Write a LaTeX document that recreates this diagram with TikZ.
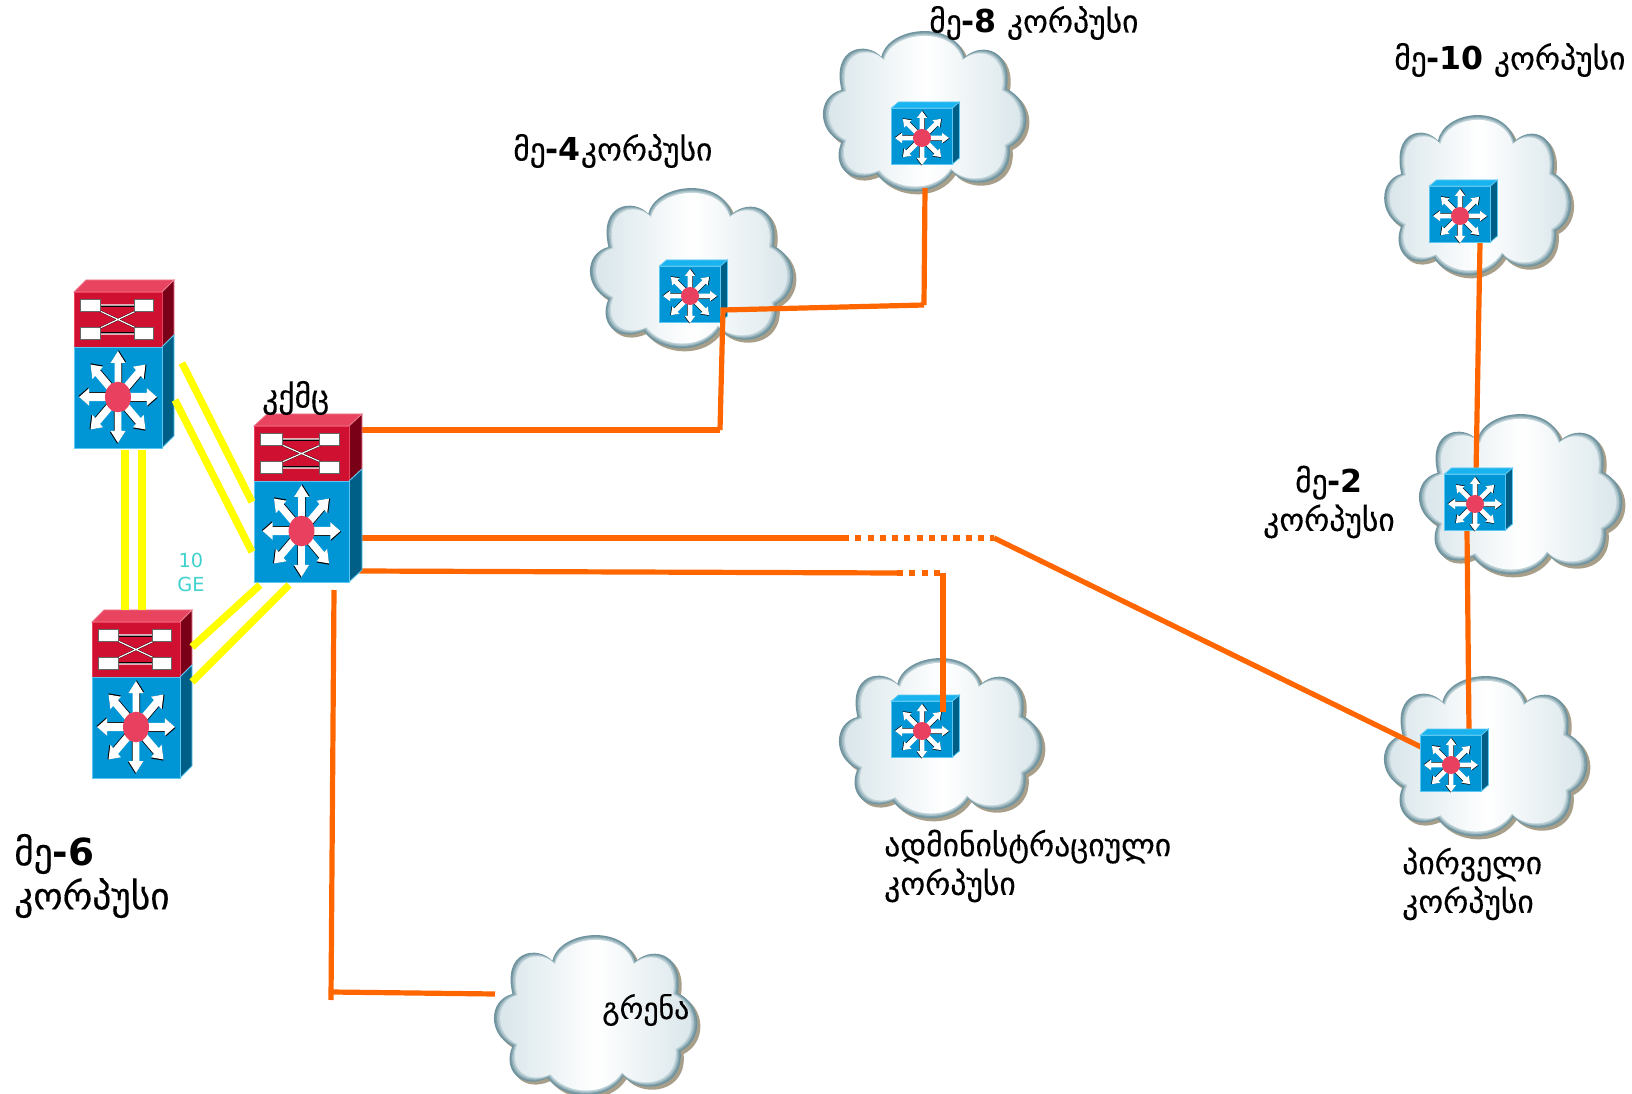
\documentclass[tikz,border=0pt]{standalone}
\usepackage{xcolor}
\usepackage{fontspec}
\setmainfont{DejaVu Sans}
\newfontfamily\geofont{DejaVu Sans}[FakeBold=0.3]
\usepackage{tikz}
\usetikzlibrary{positioning,calc}
\definecolor{swblue}{HTML}{0096D6}
\definecolor{swbluetop}{HTML}{19B4EF}
\definecolor{swblueside}{HTML}{005F87}
\definecolor{swedge}{HTML}{5CC8F2}
\definecolor{swred}{HTML}{D01030}
\definecolor{swredtop}{HTML}{E8435F}
\definecolor{swredside}{HTML}{7A0018}
\definecolor{swdot}{HTML}{E8405E}
\definecolor{cloudshadow}{HTML}{A89F8A}
\definecolor{cloudrim}{HTML}{6F939E}
\definecolor{cloudmid}{HTML}{A5BEC6}
\definecolor{cloudsoft}{HTML}{D6E4E9}
\definecolor{fiberorange}{HTML}{FF6600}
\definecolor{geyellow}{RGB}{255,255,0}
\definecolor{gelabel}{HTML}{3FD2D0}
\newcommand{\bnum}[1]{{\rmfamily\bfseries #1}}
\tikzset{
  cloud outline/.style={insert path={
    (-47,-54) .. controls (-40,-85) and (30,-92) .. (41,-54)
    .. controls (60,-70) and (92,-60) .. (85,-22)
    .. controls (112,-10) and (112,25) .. (88,36)
    .. controls (92,75) and (45,80) .. (28,61)
    .. controls (10,88) and (-35,85) .. (-52,63)
    .. controls (-80,75) and (-100,55) .. (-89,31)
    .. controls (-115,20) and (-115,-15) .. (-89,-21)
    .. controls (-100,-65) and (-62,-70) .. (-47,-54) -- cycle}},
  lan cloud/.pic={
    \fill[cloudshadow,shift={(3,3)},xscale=.95,cloud outline];
    \fill[cloudrim,xscale=.95,cloud outline];
    \fill[cloudrim!70!cloudmid,xscale=.95,scale=.985,cloud outline];
    \fill[cloudmid,xscale=.95,scale=.97,cloud outline];
    \fill[cloudmid!50!cloudsoft,xscale=.95,scale=.955,cloud outline];
    \begin{scope}
      \clip[xscale=.95,scale=.94,cloud outline];
      \shade[left color=cloudsoft,right color=cloudsoft,middle color=white] (-105,-90) rectangle (105,90);
    \end{scope}
    \node[inner sep=0pt,minimum width=150pt,minimum height=115pt] (-box) at (0,0) {};
  },
  l3 face/.pic={
    \foreach \a in {0,45,...,315} {
      \fill[black,rotate=\a,shift={(.5,.5)}] (0,-2.4) -- (20,-2.4) -- (20,-5.2) -- (27,0) -- (20,5.2) -- (20,2.4) -- (0,2.4) -- cycle;
    }
    \foreach \a in {0,45,...,315} {
      \fill[white,rotate=\a] (0,-2.4) -- (20,-2.4) -- (20,-5.2) -- (27,0) -- (20,5.2) -- (20,2.4) -- (0,2.4) -- cycle;
    }
    \fill[swdot] (0,0) circle (9);
  },
  l3 switch/.pic={
    \draw[fill=swbluetop,draw=swedge,line width=.6pt] (-30.5,-28) -- (-23.5,-34) -- (37.5,-34) -- (30.5,-28) -- cycle;
    \draw[fill=swblueside,draw=swedge,line width=.6pt] (30.5,-28) -- (37.5,-34) -- (37.5,22) -- (30.5,28) -- cycle;
    \draw[fill=swblue,draw=swedge,line width=.6pt] (-30.5,-28) rectangle (30.5,28);
    \pic at (0,2) {l3 face};
    \node[inner sep=0pt,minimum width=46pt,minimum height=42pt] (-box) at (0,0) {};
  },
  atm box/.style={fill=white,draw=black!60,line width=.3pt},
  atm line/.style={white,line width=.9pt},
  stack switch/.pic={
    \draw[fill=swredtop,draw=swredtop!70!white,line width=.6pt] (0,0) -- (12,-12) -- (100,-12) -- (88,0) -- cycle;
    \draw[fill=swredside,draw=swredtop!70!white,line width=.6pt] (88,0) -- (100,-12) -- (100,43) -- (88,55) -- cycle;
    \draw[fill=swred,draw=swredtop,line width=.6pt] (0,0) rectangle (88,55);
    \draw[black,line width=1.4pt] (26,14) -- (62,14) (26,41) -- (62,41) (26,19) -- (62,36) (26,36) -- (62,19);
    \draw[atm line] (26,13) -- (62,13) (26,42) -- (62,42) (26,19) -- (62,36) (26,36) -- (62,19);
    \draw[atm box] (6,7) rectangle (26,19);
    \draw[atm box] (60,7) rectangle (79,19);
    \draw[atm box] (6,35) rectangle (26,47);
    \draw[atm box] (60,35) rectangle (79,47);
    \draw[fill=swblueside,draw=swedge,line width=.6pt] (88,55) -- (100,43) -- (100,144) -- (88,156) -- cycle;
    \draw[fill=swblue,draw=swedge,line width=.6pt] (0,55) rectangle (88,156);
    \pic[xscale=1.44,yscale=1.7] at (44,105) {l3 face};
    \node[inner sep=0pt,minimum width=66pt,minimum height=117pt] (-box) at (44,78) {};
  },
  link ge/.style={geyellow,line width=5.5pt},
  link fiber/.style={fiberorange,line width=3.9pt},
  link far/.style={fiberorange,line width=3.9pt,dash pattern=on 4.6pt off 4.6pt},
  place/.style={anchor=west,align=left,inner sep=0pt,font=\geofont\fontsize{23.7}{29}\selectfont},
  place big/.style={anchor=west,align=left,inner sep=0pt,font=\geofont\fontsize{28}{33}\selectfont},
}
\begin{document}
\begin{tikzpicture}[x=.75pt,y=-.75pt]
    \useasboundingbox (0,0) rectangle (1632,1094);
    \fill[white] (0,0) rectangle (1632,1094);

    \pic (cloud8) at (926,111) {lan cloud};
    \pic (cloud4) at (693,268) {lan cloud};
    \pic[xscale=.92] (cloud10) at (1479,195) {lan cloud};
    \pic (cloud2) at (1522,494) {lan cloud};
    \pic (cloud1) at (1487,756) {lan cloud};
    \pic (cloudadm) at (942,738) {lan cloud};
    \pic (cloudgr) at (597,1015) {lan cloud};

    \coordinate (hk4) at (720,430);
    \coordinate (hk4up) at (723,310);
    \coordinate (hk8) at (924,305);
    \coordinate (kport1) at (361,430);
    \coordinate (kport2) at (361,538);
    \coordinate (kport3) at (359,571);
    \coordinate (kport4) at (334,590);
    \coordinate (far1) at (843,538);
    \coordinate (far2) at (994,538);
    \coordinate (far3) at (897,573);
    \coordinate (far4) at (943,573);
    \coordinate (adm) at (943,712);
    \coordinate (gtee) at (331,992);
    \coordinate (gend) at (331,1000);
    \coordinate (gr) at (495,994);
    \coordinate (s8port) at (925,188);
    \coordinate (s1port) at (1421,747);
    \coordinate (s10port) at (1480,243);
    \coordinate (s2top) at (1476,474);
    \coordinate (s2bot) at (1467,531);
    \coordinate (s1top) at (1469,731);

    \draw[link fiber] (kport1) -- (hk4);
    \draw[link fiber] (hk8) -- (s8port);
    \draw[link fiber] (kport2) -- (far1);
    \draw[link far] (far1) -- (far2);
    \draw[link fiber] (far2) -- (s1port);
    \draw[link fiber] (kport3) -- (far3);
    \draw[link far] (far3) -- (far4);
    \draw[link fiber] (kport4) -- (gend);
    \draw[link fiber] (gtee) -- (gr);
    \draw[link fiber] (s10port) -- (s2top);
    \draw[link fiber] (s2bot) -- (s1top);

    \pic (s8) at (922,136) {l3 switch};
    \pic (s4) at (690,294) {l3 switch};
    \pic (s10) at (1460,214) {l3 switch};
    \pic (s2) at (1475,502) {l3 switch};
    \pic (s1) at (1451,763) {l3 switch};
    \pic (sadm) at (922,729) {l3 switch};

    \draw[link fiber] (hk4) -- (hk4up) -- (hk8);
    \draw[link fiber] (far4) -- (adm);

    \pic (stka) at (74,292) {stack switch};
    \pic[xscale=1.08] (stkk) at (254,426) {stack switch};
    \pic (stkc) at (92,622) {stack switch};

    \coordinate (ya1) at (125,450);
    \coordinate (ya2) at (142,450);
    \coordinate (ya3) at (182,363);
    \coordinate (ya4) at (175,400);
    \coordinate (yc1) at (125,610);
    \coordinate (yc2) at (142,610);
    \coordinate (yc3) at (192,647);
    \coordinate (yc4) at (192,682);
    \coordinate (yk1) at (252,502);
    \coordinate (yk2) at (252,552);
    \coordinate (yk3) at (260,585);
    \coordinate (yk4) at (289,585);
    \draw[link ge] (ya1) -- (yc1);
    \draw[link ge] (ya2) -- (yc2);
    \draw[link ge] (ya3) -- (yk1);
    \draw[link ge] (ya4) -- (yk2);
    \draw[link ge] (yk3) -- (yc3);
    \draw[link ge] (yk4) -- (yc4);

    \node[text=gelabel,align=center,inner sep=0pt,font=\fontsize{14.5}{18}\selectfont] (ge) at (191,572) {10\\GE};
    \node[place] (lab8) at (929,23) {მე\bnum{-8} კორპუსი};
    \node[place] (lab4) at (513,151) {მე\bnum{-4}კორპუსი};
    \node[place] (lab10) at (1394,60) {მე\bnum{-10} კორპუსი};
    \node[place,align=center,anchor=center] (lab2) at (1329,502) {მე\bnum{-2}\\კორპუსი};
    \node[place big] (lab6) at (14,876) {მე\bnum{-6}\\კორპუსი};
    \node[place] (labadm) at (884,866) {ადმინისტრაციული\\კორპუსი};
    \node[place] (lab1) at (1402,884) {პირველი\\კორპუსი};
    \node[place,font=\geofont\fontsize{22.4}{27}\selectfont] (labgr) at (602,1010) {გრენა};
    \node[place] (labk) at (262,398) {კქმც};
\end{tikzpicture}
\end{document}
